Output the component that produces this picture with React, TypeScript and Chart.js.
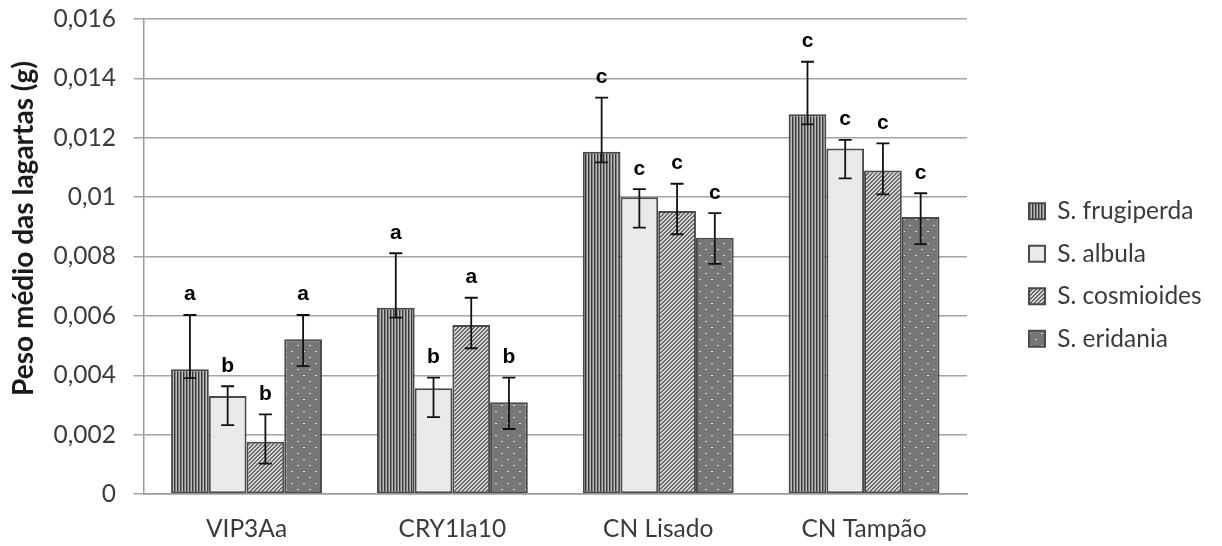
import React, { useEffect, useRef } from 'react';
import { Chart, registerables } from 'chart.js';

Chart.register(...registerables);

const categories = ['VIP3Aa', 'CRY1Ia10', 'CN Lisado', 'CN Tampão'];
const seriesNames = ['S. frugiperda', 'S. albula', 'S. cosmioides', 'S. eridania'];

const frugiperda = [0.0042, 0.00627, 0.01153, 0.01279];
const albula = [0.0033, 0.00356, 0.01, 0.01164];
const cosmioides = [0.00176, 0.00569, 0.00953, 0.0109];
const eridania = [0.00521, 0.00309, 0.00863, 0.00933];

const frugiperdaHigh = [0.00603, 0.00811, 0.01335, 0.01456];
const frugiperdaLow = [0.0039, 0.00594, 0.01117, 0.01245];
const albulaHigh = [0.00363, 0.00392, 0.01027, 0.01193];
const albulaLow = [0.00232, 0.00259, 0.00897, 0.01063];
const cosmioidesHigh = [0.00268, 0.00661, 0.01045, 0.01181];
const cosmioidesLow = [0.00102, 0.00491, 0.00875, 0.01009];
const eridaniaHigh = [0.00603, 0.00392, 0.00946, 0.01013];
const eridaniaLow = [0.00431, 0.00219, 0.00775, 0.00842];

const frugiperdaLetters = ['a', 'a', 'c', 'c'];
const albulaLetters = ['b', 'b', 'c', 'c'];
const cosmioidesLetters = ['b', 'a', 'c', 'c'];
const eridaniaLetters = ['a', 'b', 'c', 'c'];

const yTickLabels = ['0', '0,002', '0,004', '0,006', '0,008', '0,01', '0,012', '0,014', '0,016'];
const yTitle = 'Peso médio das lagartas (g)';

function makePattern(w: number, h: number, draw: (g: CanvasRenderingContext2D) => void) {
  const c = document.createElement('canvas');
  c.width = w;
  c.height = h;
  const g = c.getContext('2d') as CanvasRenderingContext2D;
  draw(g);
  return g.createPattern(c, 'repeat') as CanvasPattern;
}

export default function App() {
  const ref = useRef<HTMLCanvasElement | null>(null);

  useEffect(() => {
    if (!ref.current) return;

    const stripes = makePattern(3, 1, (g) => {
      g.fillStyle = '#bdbdbd';
      g.fillRect(0, 0, 3, 1);
      g.fillStyle = '#383838';
      g.fillRect(0, 0, 1, 1);
      g.fillStyle = '#828282';
      g.fillRect(1, 0, 1, 1);
    });
    const fine = makePattern(2, 2, (g) => {
      g.fillStyle = '#e0e0e0';
      g.fillRect(0, 0, 2, 2);
      g.fillStyle = '#f3f3f3';
      g.fillRect(0, 0, 1, 1);
      g.fillRect(1, 1, 1, 1);
    });
    const diag = makePattern(4, 4, (g) => {
      g.fillStyle = '#d8d8d8';
      g.fillRect(0, 0, 4, 4);
      g.fillStyle = '#6a6a6a';
      for (let x = 0; x < 4; x++) {
        for (let y = 0; y < 4; y++) {
          if ((x + y) % 4 < 2) g.fillRect(x, y, 1, 1);
        }
      }
    });
    const dots = makePattern(12, 12, (g) => {
      g.fillStyle = '#767676';
      g.fillRect(0, 0, 12, 12);
      g.fillStyle = '#dadada';
      g.fillRect(3, 3, 2, 1);
      g.fillRect(9, 9, 2, 1);
    });

    const values = [frugiperda, albula, cosmioides, eridania];
    const highs = [frugiperdaHigh, albulaHigh, cosmioidesHigh, eridaniaHigh];
    const lows = [frugiperdaLow, albulaLow, cosmioidesLow, eridaniaLow];
    const letters = [frugiperdaLetters, albulaLetters, cosmioidesLetters, eridaniaLetters];
    const fills = [stripes, fine, diag, dots];

    const legendFont = 24.5;
    const mctx = document.createElement('canvas').getContext('2d') as CanvasRenderingContext2D;
    mctx.font = `${legendFont}px Lato`;
    let maxText = 0;
    seriesNames.forEach((s) => {
      maxText = Math.max(maxText, mctx.measureText(s).width);
    });
    const natural = 18 + 16 + legendFont / 2 + maxText + 10;
    const legendW = Math.min(natural, 211);
    const padR = 211 - legendW;

    const errorPlugin = {
      id: 'errbars',
      afterDatasetsDraw(chart: any) {
        const ctx = chart.ctx as CanvasRenderingContext2D;
        const yScale = chart.scales.y;
        ctx.save();
        values.forEach((_, i) => {
          const meta = chart.getDatasetMeta(i);
          meta.data.forEach((bar: any, j: number) => {
            const x = bar.x;
            const yh = yScale.getPixelForValue(highs[i][j]);
            const yl = yScale.getPixelForValue(lows[i][j]);
            ctx.strokeStyle = '#111111';
            ctx.lineWidth = 1.8;
            ctx.beginPath();
            ctx.moveTo(x, yh);
            ctx.lineTo(x, yl);
            ctx.moveTo(x - 6.5, yh);
            ctx.lineTo(x + 6.5, yh);
            ctx.moveTo(x - 6.5, yl);
            ctx.lineTo(x + 6.5, yl);
            ctx.stroke();
            ctx.fillStyle = '#000000';
            ctx.font = 'bold 21px "Liberation Sans", Arial, sans-serif';
            ctx.textAlign = 'center';
            ctx.textBaseline = 'alphabetic';
            ctx.fillText(letters[i][j], x, yh - 14.5);
          });
        });
        ctx.restore();
      },
    };

    const titlePlugin = {
      id: 'ytitle',
      afterDraw(chart: any) {
        const ctx = chart.ctx as CanvasRenderingContext2D;
        const { top, bottom } = chart.chartArea;
        ctx.save();
        ctx.translate(24, top + (bottom - top) * 0.441);
        ctx.rotate(-Math.PI / 2);
        ctx.font = 'bold 28px Lato';
        ctx.fillStyle = '#1a1a1a';
        ctx.textAlign = 'center';
        ctx.textBaseline = 'middle';
        ctx.fillText(yTitle, 0, 0);
        ctx.restore();
      },
    };

    const chart = new Chart(ref.current, {
      type: 'bar',
      data: {
        labels: categories,
        datasets: seriesNames.map((name, i) => ({
          label: name,
          data: values[i],
          backgroundColor: fills[i],
          borderColor: '#4a4a4a',
          borderWidth: 2,
          borderSkipped: false,
          categoryPercentage: 0.733,
          barPercentage: 1.0,
        })),
      },
      options: {
        animation: false,
        responsive: false,
        devicePixelRatio: 1,
        layout: { padding: { left: 0, top: 4, bottom: 0, right: padR } },
        font: { family: 'Lato' },
        plugins: {
          legend: {
            position: 'right',
            maxWidth: 211,
            labels: {
              font: { family: 'Lato', size: legendFont },
              color: '#3a3a3a',
              boxWidth: 16,
              boxHeight: 16,
              padding: 18,
            },
          },
          tooltip: { enabled: false },
        },
        scales: {
          x: {
            grid: { display: false, drawTicks: false },
            border: { display: true, color: '#9a9a9a', width: 1.5 },
            ticks: {
              font: { family: 'Lato', size: 24.5 },
              color: '#3a3a3a',
              padding: 20,
            },
            afterFit: (s: any) => {
              s.height = 546 - 494;
              s.paddingLeft = 0;
              s.paddingRight = 0;
            },
          },
          y: {
            min: 0,
            max: 0.016,
            grid: { color: '#a4a4a4', lineWidth: 1.5, drawTicks: true, tickLength: 10 },
            border: { display: true, color: '#9a9a9a', width: 1.5 },
            ticks: {
              stepSize: 0.002,
              font: { family: 'Lato', size: 24.5 },
              color: '#3a3a3a',
              padding: 17.6,
              callback: (_v: any, i: number) => yTickLabels[i] ?? '',
            },
            afterFit: (s: any) => {
              s.width = 143.6;
              s.paddingTop = 19;
              s.paddingBottom = 0;
            },
          },
          y2: {
            type: 'linear',
            position: 'right',
            display: true,
            grid: { display: false, drawOnChartArea: false, drawTicks: false },
            border: { display: false },
            ticks: { display: false },
            afterFit: (s: any) => {
              s.width = 44;
              s.paddingTop = 0;
              s.paddingBottom = 0;
            },
          },
        },
      },
      plugins: [errorPlugin, titlePlugin],
    } as any);

    return () => {
      chart.destroy();
    };
  }, []);

  return (
    <div style={{ position: 'absolute', left: 0, top: 0, width: 1222, height: 546, background: '#ffffff' }}>
      <canvas ref={ref} width={1222} height={546} style={{ display: 'block', width: 1222, height: 546 }} />
    </div>
  );
}
